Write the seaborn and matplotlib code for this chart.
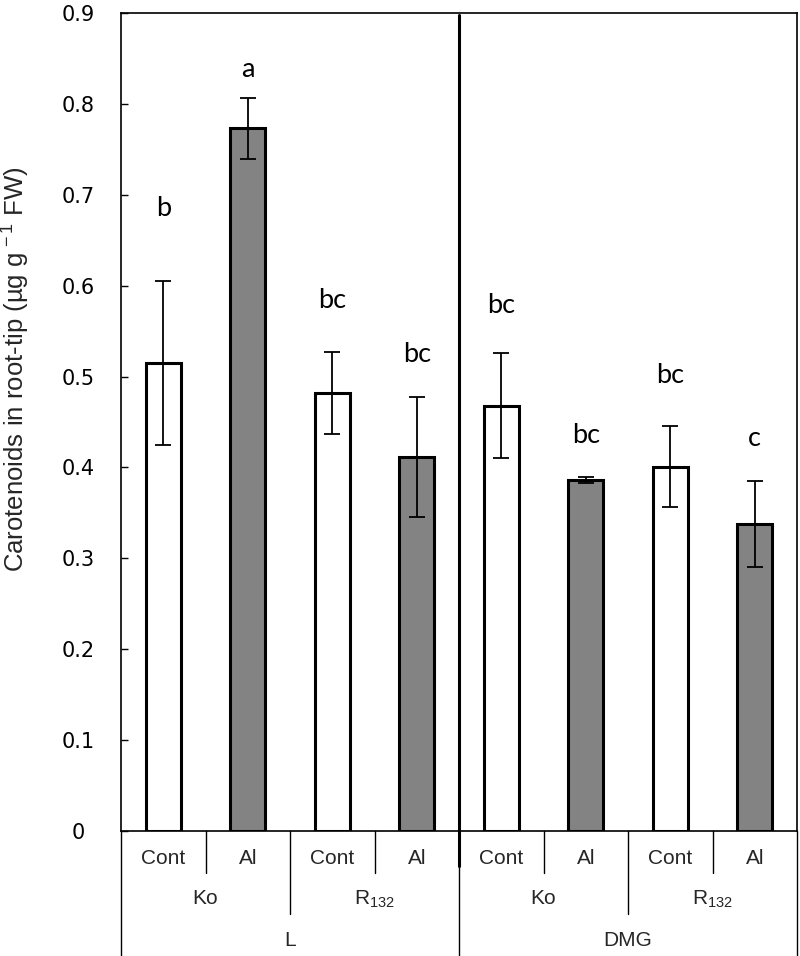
import numpy as np
import pandas as pd
import seaborn as sns
import matplotlib.pyplot as plt
from matplotlib.lines import Line2D
from matplotlib.transforms import blended_transform_factory

# data
sites = ["L", "L", "L", "L", "DMG", "DMG", "DMG", "DMG"]
cultivars = ["Ko", "Ko", "R132", "R132", "Ko", "Ko", "R132", "R132"]
treatments = ["Cont", "Al", "Cont", "Al", "Cont", "Al", "Cont", "Al"]
means = [0.515, 0.773, 0.482, 0.412, 0.468, 0.386, 0.401, 0.338]
errors = [0.090, 0.034, 0.045, 0.066, 0.058, 0.003, 0.045, 0.047]
letters = ["b", "a", "bc", "bc", "bc", "bc", "bc", "c"]
letter_y = [0.677, 0.830, 0.575, 0.516, 0.570, 0.427, 0.493, 0.424]

df = pd.DataFrame({"site": sites, "cultivar": cultivars,
                   "treatment": treatments, "mean": means})
df["bar"] = df["site"] + "-" + df["cultivar"] + "-" + df["treatment"]

sns.set_style("ticks")
plt.rcParams["font.family"] = ["DejaVu Sans"]
plt.rcParams["mathtext.fontset"] = "custom"
plt.rcParams["mathtext.rm"] = "Liberation Sans"
plt.rcParams["mathtext.it"] = "Liberation Sans"

W, H = 800, 956
fig = plt.figure(figsize=(8, 9.56), dpi=100)
ax = fig.add_axes([121 / W, 1 - 831 / H, (797 - 121) / W, (831 - 13) / H])

sns.barplot(data=df, x="bar", y="mean", hue="treatment", dodge=False,
            palette={"Cont": "white", "Al": "#838383"}, width=0.42,
            edgecolor="black", linewidth=2.2, legend=False, ax=ax)
xs = np.arange(len(means))
ax.errorbar(xs, means, yerr=errors, fmt="none", ecolor="black",
            elinewidth=1.3, capsize=5.5, capthick=1.3, zorder=5)

for x, t, ly in zip(xs, letters, letter_y):
    ax.text(x, ly, t, ha="center", va="baseline", fontsize=19.5,
            family="Lato", color="black")

ax.set_xlim(-0.5, 7.5)
ax.set_ylim(0, 0.9)
ax.set_yticks(np.arange(0, 0.91, 0.1))
ax.set_yticklabels(["0"] + [f"{v:.1f}" for v in np.arange(0.1, 0.91, 0.1)])
ax.tick_params(axis="y", direction="in", length=5, width=1, labelsize=15,
               pad=31, colors="black")
for lab in ax.get_yticklabels():
    lab.set_ha("center")
ax.tick_params(axis="x", length=0, labelbottom=False)
ax.set_xlabel("")
ax.set_ylabel(r"Carotenoids in root-tip (µg g$^{\,-1}$ FW)",
              fontsize=18.5, family="Liberation Sans")
ax.yaxis.set_label_coords(-0.132, 0.565)
for s in ax.spines.values():
    s.set_linewidth(1.2)
    s.set_color("black")

# separator inside the plot between the two sites
tr = blended_transform_factory(ax.transData, fig.transFigure)
fig.add_artist(Line2D([3.5, 3.5], [1 - 15 / H, 1 - 866 / H], transform=tr,
                      color="black", lw=2.2))

# multi-level category axis below the plot
def vline(x, y_px, lw=1.0):
    fig.add_artist(Line2D([x, x], [1 - 831 / H, 1 - y_px / H], transform=tr,
                          color="black", lw=lw))

for x in [0.5, 2.5, 4.5, 6.5]:
    vline(x, 873)
for x in [1.5, 5.5]:
    vline(x, 914)
for x in [-0.5, 3.5, 7.5]:
    vline(x, H)

lab_font = dict(ha="center", va="center", fontsize=15, family="Liberation Sans",
                transform=tr)
for x, t in zip(xs, treatments):
    fig.text(x, 1 - 858 / H, t, **lab_font)
for i in range(0, len(cultivars), 2):
    name = r"R$_{\mathrm{132}}$" if cultivars[i] == "R132" else cultivars[i]
    fig.text(i + 0.5, 1 - 899 / H, name, **lab_font)
for i in range(0, len(sites), 4):
    fig.text(i + 1.5, 1 - 941 / H, sites[i], **lab_font)

fig.savefig("out.png", dpi=100)
